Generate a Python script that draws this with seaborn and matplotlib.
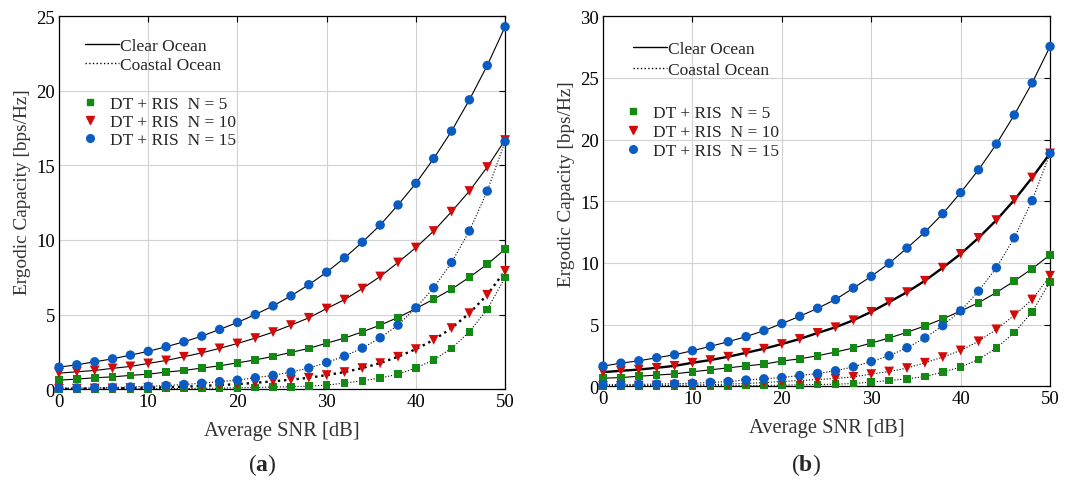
import matplotlib

matplotlib.use("Agg")
import matplotlib.pyplot as plt
import numpy as np
import pandas as pd
import seaborn as sns
from matplotlib.lines import Line2D

# ---- data ----
snr = list(range(0, 51, 2))

# panel (a)
a_clear_5 = [0.6, 0.67, 0.76, 0.82, 0.92, 1.0, 1.14, 1.25, 1.41, 1.56, 1.76, 1.96, 2.19,
             2.46, 2.73, 3.08, 3.42, 3.84, 4.29, 4.8, 5.4, 6.03, 6.7, 7.5, 8.37, 9.38]
a_clear_10 = [1.07, 1.16, 1.25, 1.39, 1.52, 1.72, 1.92, 2.17, 2.43, 2.73, 3.06, 3.42, 3.82,
              4.29, 4.78, 5.4, 6.0, 6.74, 7.55, 8.49, 9.49, 10.6, 11.9, 13.28, 14.89, 16.7]
a_clear_15 = [1.47, 1.63, 1.83, 2.03, 2.28, 2.53, 2.84, 3.17, 3.55, 4.0, 4.47, 5.0, 5.58,
              6.25, 7.0, 7.84, 8.8, 9.85, 11.0, 12.35, 13.8, 15.46, 17.3, 19.4, 21.7, 24.3]
a_coast_5 = [0.005, 0.007, 0.01, 0.013, 0.017, 0.022, 0.03, 0.04, 0.05, 0.065, 0.085, 0.11, 0.14,
             0.16, 0.2, 0.27, 0.4, 0.56, 0.74, 1.0, 1.41, 1.96, 2.73, 3.84, 5.34, 7.48]
a_coast_10 = [0.02, 0.03, 0.04, 0.05, 0.07, 0.09, 0.12, 0.16, 0.21, 0.27, 0.33, 0.42, 0.52,
              0.63, 0.76, 0.94, 1.14, 1.41, 1.74, 2.17, 2.68, 3.3, 4.09, 5.09, 6.32, 7.93]
a_coast_15 = [0.05, 0.07, 0.09, 0.11, 0.14, 0.18, 0.24, 0.31, 0.39, 0.5, 0.6, 0.76, 0.92,
              1.14, 1.41, 1.78, 2.21, 2.75, 3.44, 4.29, 5.45, 6.79, 8.49, 10.6, 13.28, 16.6]

# panel (b)
b_clear_5 = [0.65, 0.7, 0.81, 0.9, 1.0, 1.17, 1.33, 1.49, 1.65, 1.79, 2.04, 2.22, 2.47,
             2.77, 3.1, 3.5, 3.91, 4.37, 4.89, 5.46, 6.1, 6.77, 7.6, 8.53, 9.53, 10.65]
b_clear_10 = [1.14, 1.25, 1.35, 1.49, 1.65, 1.9, 2.12, 2.39, 2.71, 3.04, 3.42, 3.83, 4.32,
              4.78, 5.35, 6.03, 6.82, 7.63, 8.55, 9.61, 10.73, 12.03, 13.47, 15.1, 16.92, 18.88]
b_clear_15 = [1.63, 1.87, 2.06, 2.31, 2.55, 2.88, 3.23, 3.61, 4.02, 4.51, 5.08, 5.67, 6.32,
              7.03, 7.96, 8.91, 9.97, 11.2, 12.5, 13.99, 15.7, 17.55, 19.64, 22.0, 24.6, 27.55]
b_coast_5 = [0.005, 0.007, 0.01, 0.013, 0.017, 0.022, 0.03, 0.04, 0.05, 0.065, 0.085, 0.11, 0.14,
             0.16, 0.22, 0.33, 0.46, 0.6, 0.78, 1.14, 1.55, 2.17, 3.1, 4.34, 6.03, 8.47]
b_coast_10 = [0.03, 0.04, 0.05, 0.06, 0.08, 0.1, 0.13, 0.17, 0.22, 0.29, 0.38, 0.46, 0.54,
              0.62, 0.76, 0.98, 1.19, 1.47, 1.9, 2.36, 2.9, 3.64, 4.61, 5.75, 7.03, 8.96]
b_coast_15 = [0.12, 0.13, 0.15, 0.17, 0.2, 0.24, 0.31, 0.38, 0.5, 0.6, 0.7, 0.87, 1.03,
              1.25, 1.57, 2.0, 2.47, 3.12, 3.91, 4.91, 6.11, 7.71, 9.61, 12.03, 15.05, 18.88]

ris_sizes = [5, 10, 15]
oceans = ["Clear Ocean", "Coastal Ocean"]
panel_labels = ["a", "b"]
y_limits = [25, 30]


def _frame(clear, coast):
    rows = []
    for ocean, series in zip(oceans, (clear, coast)):
        for n, values in zip(ris_sizes, series):
            for s, c in zip(snr, values):
                rows.append({"snr": s, "capacity": c, "ocean": ocean, "N": n})
    return pd.DataFrame(rows)


frames = [
    _frame((a_clear_5, a_clear_10, a_clear_15), (a_coast_5, a_coast_10, a_coast_15)),
    _frame((b_clear_5, b_clear_10, b_clear_15), (b_coast_5, b_coast_10, b_coast_15)),
]

# ---- style ----
sns.set_theme(style="whitegrid")
plt.rcParams["font.family"] = ["Liberation Serif", "DejaVu Serif"]
plt.rcParams["mathtext.fontset"] = "custom"
plt.rcParams["mathtext.rm"] = "Liberation Serif"
plt.rcParams["mathtext.bf"] = "Liberation Serif:bold"

palette = {5: "#138a13", 10: "#d40b0b", 15: "#0a5cc2"}
markers = {5: "s", 10: "v", 15: "o"}
sizes = {5: 30, 10: 50, 15: 46}
dashes = {"Clear Ocean": "-", "Coastal Ocean": ":"}
# a couple of curves are drawn heavier in the original
heavy = {(0, "Coastal Ocean", 10), (1, "Clear Ocean", 10)}

fig = plt.figure(figsize=(10.73, 4.81), dpi=100)
positions = [[0.055, 0.189, 0.4157, 0.775], [0.562, 0.195, 0.4166, 0.769]]
ylabel_y = [0.531, 0.549]
line_leg = [(0.042, 0.96, 0.15), (0.051, 0.952, 0.27)]
mark_leg = [(0.034, 0.804, 0.1), (0.032, 0.78, 0.16)]

for idx, (frame, pos) in enumerate(zip(frames, positions)):
    axis = fig.add_axes(pos)
    axis.set_facecolor("white")
    for ocean in oceans:
        for n in ris_sizes:
            line = frame[(frame.ocean == ocean) & (frame.N == n)]
            sns.lineplot(
                data=line, x="snr", y="capacity",
                color="black", linestyle=dashes[ocean],
                linewidth=1.7 if (idx, ocean, n) in heavy else 0.8,
                estimator=None, legend=False, ax=axis, zorder=2,
            )
    for n in ris_sizes:
        pts = frame[frame.N == n]
        sns.scatterplot(
            data=pts, x="snr", y="capacity",
            color=palette[n], marker=markers[n], s=sizes[n],
            edgecolor="none", linewidth=0, legend=False, ax=axis,
            zorder=3, clip_on=False,
        )
    axis.set_xlim(0, 50)
    axis.set_ylim(0, y_limits[idx])
    axis.set_xticks(range(0, 51, 10))
    axis.set_yticks(range(0, y_limits[idx] + 1, 5))
    axis.grid(True, color="#d2d2d2", linewidth=0.8)
    axis.tick_params(direction="in", length=4, width=0.8, labelsize=13.5, colors="black",
                     top=True, right=True, pad=3)
    for spine in axis.spines.values():
        spine.set_color("black")
        spine.set_linewidth(0.9)
    axis.set_xlabel("Average SNR [dB]", fontsize=14.8, color="#333333", labelpad=8)
    axis.set_ylabel("Ergodic Capacity [bps/Hz]", fontsize=13.9, color="#333333")
    axis.yaxis.set_label_coords(-0.063, ylabel_y[idx])

    lx, ly, lsp = line_leg[idx]
    line_handles = [
        Line2D([], [], color="black", linestyle="-", linewidth=1.0, label=oceans[0]),
        Line2D([], [], color="black", linestyle=":", linewidth=1.0, label=oceans[1]),
    ]
    first = axis.legend(handles=line_handles, loc="upper left", bbox_to_anchor=(lx, ly),
                        frameon=False, fontsize=12.5, handlelength=2.0, handletextpad=0.05,
                        labelspacing=lsp, borderaxespad=0)
    axis.add_artist(first)
    mx, my, msp = mark_leg[idx]
    marker_handles = [
        Line2D([], [], color=palette[n], marker=markers[n], linestyle="none",
               markersize=5.5 if n != 5 else 4.5, label=f"DT + RIS  N = {n}")
        for n in ris_sizes
    ]
    axis.legend(handles=marker_handles, loc="upper left", bbox_to_anchor=(mx, my),
                frameon=False, fontsize=12.5, handlelength=1.0, handletextpad=0.65,
                labelspacing=msp, borderaxespad=0)

fig.text(262 / 1073, 1 - 465 / 481, r"($\mathbf{" + panel_labels[0] + r"}$)",
         ha="center", va="center", fontsize=17)
fig.text(806 / 1073, 1 - 465 / 481, r"($\mathbf{" + panel_labels[1] + r"}$)",
         ha="center", va="center", fontsize=17)

fig.savefig("out.png", dpi=100, facecolor="white")
